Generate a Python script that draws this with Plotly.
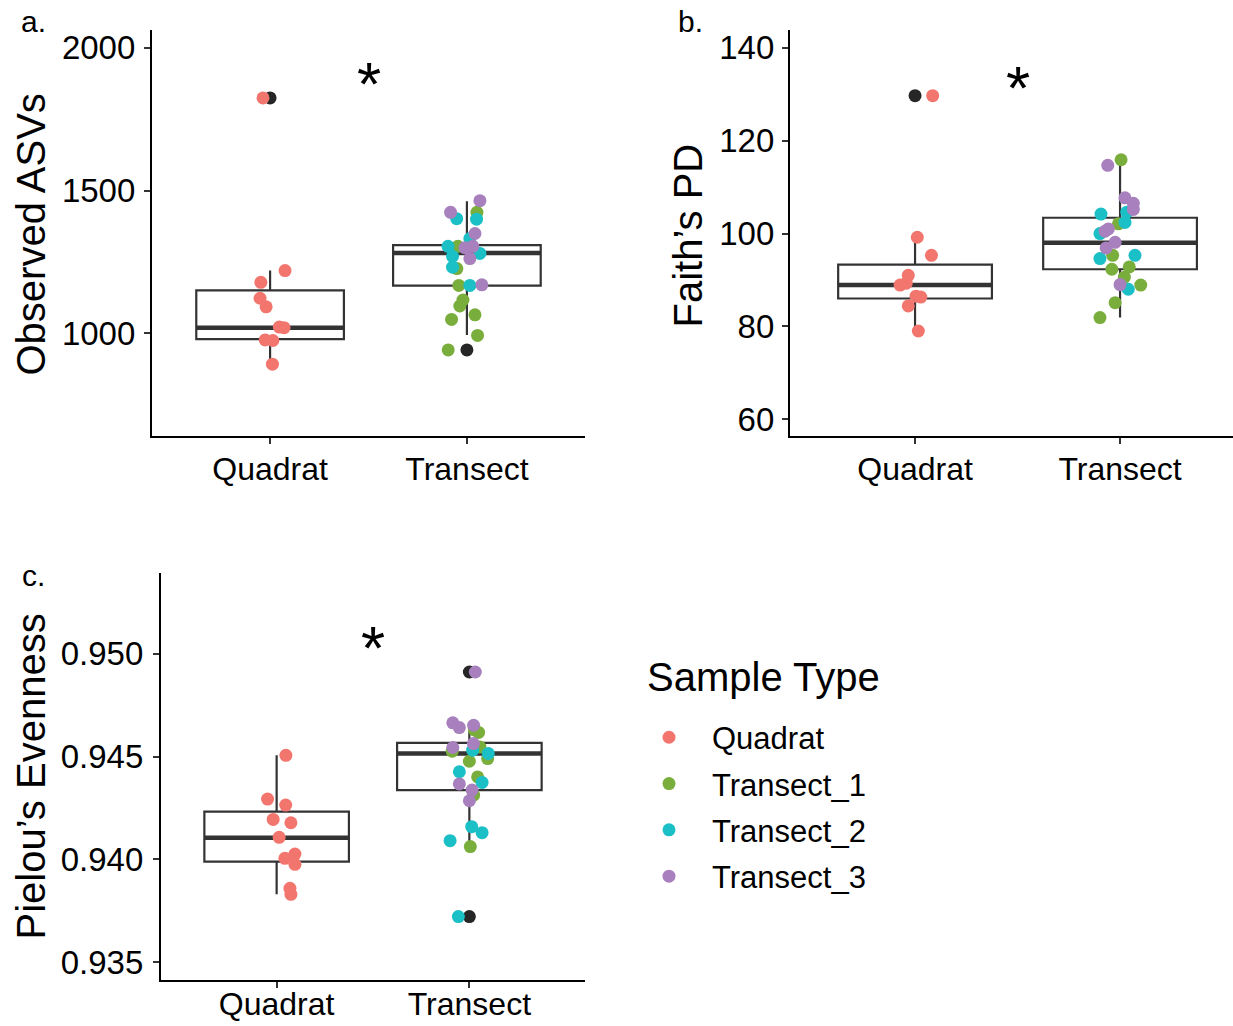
import plotly.graph_objects as go

# ---------------- data ----------------
categories = ["Quadrat", "Transect"]
groups = ["Quadrat", "Transect_1", "Transect_2", "Transect_3"]
group_colors = ["#F2756E", "#7AAE3C", "#1BBFC6", "#A780BD"]

# Panel a: Observed ASVs
a_quadrat = [1825, 1220, 1179, 1123, 1093, 1022, 1020, 977, 975, 892]
a_quadrat_jit = [-0.036, 0.076, -0.047, -0.051, -0.020, 0.047, 0.071, -0.025, 0.014, 0.012]
a_t1 = [1424, 1305, 1227, 1168, 1117, 1096, 1065, 1049, 993, 942]
a_t1_jit = [0.051, -0.046, -0.051, -0.041, -0.020, -0.036, 0.041, -0.078, 0.054, -0.095]
a_t2 = [1402, 1400, 1332, 1305, 1280, 1270, 1232, 1168]
a_t2_jit = [-0.052, 0.049, 0.015, -0.096, 0.066, -0.073, -0.073, 0.015]
a_t3 = [1465, 1424, 1350, 1300, 1305, 1262, 1170]
a_t3_jit = [0.066, -0.083, 0.041, -0.010, 0.030, 0.015, 0.076]
a_q1 = [980, 1167]
a_median = [1020, 1282]
a_q3 = [1151, 1309]
a_lower = [892, 994]
a_upper = [1220, 1463]
a_outlier_cat = [1, 2]
a_outlier_val = [1825, 942]

# Panel b: Faith's PD
b_quadrat = [129.7, 99.2, 95.3, 91.0, 88.9, 89.3, 86.5, 86.3, 84.4, 79.0]
b_quadrat_jit = [0.086, 0.011, 0.080, -0.033, -0.073, -0.043, 0.005, 0.028, -0.033, 0.016]
b_t1 = [115.9, 102.1, 95.3, 92.8, 92.3, 90.6, 88.9, 85.1, 81.9]
b_t1_jit = [0.005, -0.008, -0.036, 0.045, -0.040, 0.021, 0.101, -0.024, -0.098]
b_t2 = [104.6, 104.2, 102.4, 100.0, 95.3, 94.6, 88.0]
b_t2_jit = [0.033, -0.093, 0.024, -0.098, 0.073, -0.098, 0.040]
b_t3 = [114.7, 107.7, 106.5, 105.2, 101.0, 100.5, 98.1, 96.9, 89.0]
b_t3_jit = [-0.060, 0.024, 0.065, 0.065, -0.057, -0.073, -0.024, -0.068, 0.000]
b_q1 = [86.0, 92.3]
b_median = [88.9, 98.0]
b_q3 = [93.3, 103.4]
b_lower = [79.0, 81.9]
b_upper = [99.2, 115.9]
b_outlier_cat = [1]
b_outlier_val = [129.7]

# Panel c: Pielou's Evenness
c_quadrat = [0.94506, 0.94293, 0.94264, 0.94194, 0.94178, 0.94107, 0.94026, 0.94005, 0.93976, 0.93859, 0.93830]
c_quadrat_jit = [0.048, -0.047, 0.047, -0.018, 0.074, 0.013, 0.095, 0.043, 0.095, 0.069, 0.074]
c_t1 = [0.94617, 0.94630, 0.94526, 0.94546, 0.94490, 0.94477, 0.94401, 0.94312, 0.94062]
c_t1_jit = [0.048, 0.026, -0.089, 0.055, 0.095, 0.000, 0.043, 0.022, 0.005]
c_t2 = [0.94531, 0.94515, 0.94426, 0.94374, 0.94159, 0.94130, 0.94091, 0.93722]
c_t2_jit = [0.017, 0.098, -0.052, 0.066, 0.012, 0.066, -0.100, -0.057]
c_t3 = [0.94911, 0.94664, 0.94641, 0.94652, 0.94544, 0.94563, 0.94367, 0.94337, 0.94285]
c_t3_jit = [0.031, -0.086, -0.052, 0.022, -0.086, 0.021, -0.052, 0.014, 0.000]
c_q1 = [0.93989, 0.94337]
c_median = [0.94105, 0.94515]
c_q3 = [0.94232, 0.94566]
c_lower = [0.93830, 0.94062]
c_upper = [0.94506, 0.94664]
c_outlier_cat = [2, 2]
c_outlier_val = [0.94911, 0.93722]

y_titles = ["Observed ASVs", "Faith\u2019s PD", "Pielou\u2019s Evenness"]
panel_labels = ["a.", "b.", "c."]
legend_title = "Sample Type"
star_y = [1906, 133.3, 0.95076]

# ---------------- figure ----------------
W, H = 1233, 1026
BOX_W = 0.75
LINE = "#333333"

fig = go.Figure()

panels = [
    dict(ax="", pts=[(a_quadrat, a_quadrat_jit, 1), (a_t1, a_t1_jit, 2), (a_t2, a_t2_jit, 2), (a_t3, a_t3_jit, 2)],
         q1=a_q1, med=a_median, q3=a_q3, lo=a_lower, hi=a_upper, oc=a_outlier_cat, ov=a_outlier_val),
    dict(ax="2", pts=[(b_quadrat, b_quadrat_jit, 1), (b_t1, b_t1_jit, 2), (b_t2, b_t2_jit, 2), (b_t3, b_t3_jit, 2)],
         q1=b_q1, med=b_median, q3=b_q3, lo=b_lower, hi=b_upper, oc=b_outlier_cat, ov=b_outlier_val),
    dict(ax="3", pts=[(c_quadrat, c_quadrat_jit, 1), (c_t1, c_t1_jit, 2), (c_t2, c_t2_jit, 2), (c_t3, c_t3_jit, 2)],
         q1=c_q1, med=c_median, q3=c_q3, lo=c_lower, hi=c_upper, oc=c_outlier_cat, ov=c_outlier_val),
]

for pi, p in enumerate(panels):
    xa, ya = "x" + p["ax"], "y" + p["ax"]
    fig.add_trace(go.Box(
        x=[1, 2], q1=p["q1"], median=p["med"], q3=p["q3"],
        lowerfence=p["lo"], upperfence=p["hi"],
        width=BOX_W, whiskerwidth=0, boxpoints=False,
        line=dict(color=LINE, width=2.2), fillcolor="white",
        showlegend=False, hoverinfo="skip", xaxis=xa, yaxis=ya))
    for ci, m in enumerate(p["med"]):
        cx = ci + 1
        fig.add_trace(go.Scatter(
            x=[cx - BOX_W / 2, cx + BOX_W / 2], y=[m, m], mode="lines",
            line=dict(color=LINE, width=4.5), showlegend=False,
            hoverinfo="skip", xaxis=xa, yaxis=ya))
    fig.add_trace(go.Scatter(
        x=p["oc"], y=p["ov"], mode="markers",
        marker=dict(color="#262626", size=13), showlegend=False,
        hoverinfo="skip", xaxis=xa, yaxis=ya))
    for gi, (vals, jit, cat) in enumerate(p["pts"]):
        fig.add_trace(go.Scatter(
            x=[cat + j for j in jit], y=vals, mode="markers",
            marker=dict(color=group_colors[gi], size=13),
            name=groups[gi], legendgroup=groups[gi],
            showlegend=(pi == 0), xaxis=xa, yaxis=ya))

def px_x(v):
    return v / W

def px_y(v):
    return 1 - v / H

axis_common = dict(showline=True, linecolor="black", linewidth=2.2, ticks="outside",
                   ticklen=6, tickwidth=2.2, tickcolor=LINE, showgrid=False, zeroline=False)
xfont = dict(size=32, color="black", family="Liberation Sans")
yfont = dict(size=33, color="black", family="Liberation Sans")

fig.update_layout(
    xaxis=dict(domain=[px_x(152), px_x(585)], range=[0.4, 2.6], tickvals=[1, 2], ticktext=categories,
               anchor="y", ticklabelstandoff=-3, tickfont=xfont, **axis_common),
    yaxis=dict(domain=[px_y(437), px_y(30)], range=[640, 2063], tickvals=[1000, 1500, 2000],
               anchor="x", ticklabelstandoff=2, tickfont=yfont, **axis_common),
    xaxis2=dict(domain=[px_x(790), 1.0], range=[0.39, 2.551], tickvals=[1, 2], ticktext=categories,
                anchor="y2", ticklabelstandoff=-3, tickfont=xfont, **axis_common),
    yaxis2=dict(domain=[px_y(437), px_y(30)], range=[56.34, 143.87], tickvals=[60, 80, 100, 120, 140],
                anchor="x2", ticklabelstandoff=1, tickfont=yfont, **axis_common),
    xaxis3=dict(domain=[px_x(161), px_x(585)], range=[0.4, 2.6], tickvals=[1, 2], ticktext=categories,
                anchor="y3", ticklabelstandoff=-12, tickfont=xfont, **axis_common),
    yaxis3=dict(domain=[px_y(982), px_y(574)], range=[0.93413, 0.95393],
                tickvals=[0.935, 0.940, 0.945, 0.950], tickformat=".3f",
                anchor="x3", ticklabelstandoff=3, tickfont=yfont, **axis_common),
)

annotations = []
title_pos = [(31, 235), (688, 236), (31, 778)]
for t, (x, y) in zip(y_titles, title_pos):
    annotations.append(dict(text=t, x=px_x(x), y=px_y(y), xref="paper", yref="paper",
                            xanchor="center", yanchor="middle", textangle=-90, showarrow=False,
                            font=dict(size=40, color="black", family="Liberation Sans")))
label_pos = [(33, 22), (690, 22), (33, 577)]
for t, (x, y) in zip(panel_labels, label_pos):
    annotations.append(dict(text=t, x=px_x(x), y=px_y(y), xref="paper", yref="paper",
                            xanchor="center", yanchor="middle", showarrow=False,
                            font=dict(size=30, color="black", family="Liberation Sans")))
for i, sy in enumerate(star_y):
    sfx = ["", "2", "3"][i]
    annotations.append(dict(text="*", x=1.5, y=sy, xref="x" + sfx, yref="y" + sfx,
                            xanchor="center", yanchor="middle", yshift=-9, showarrow=False,
                            font=dict(size=62, color="black", family="Liberation Sans")))
annotations.append(dict(text=legend_title, x=px_x(645), y=px_y(678), xref="paper", yref="paper",
                        xanchor="left", yanchor="middle", showarrow=False,
                        font=dict(size=40, color="black", family="Liberation Sans")))

fig.update_layout(
    width=W, height=H, autosize=False, margin=dict(l=0, r=0, t=0, b=0),
    plot_bgcolor="white", paper_bgcolor="white",
    font=dict(family="Liberation Sans", color="black"),
    annotations=annotations,
    legend=dict(x=px_x(626), y=px_y(712), xanchor="left", yanchor="top",
                font=dict(size=31), itemwidth=76, tracegroupgap=3,
                bgcolor="rgba(0,0,0,0)"),
)

fig.write_html("out.html")
